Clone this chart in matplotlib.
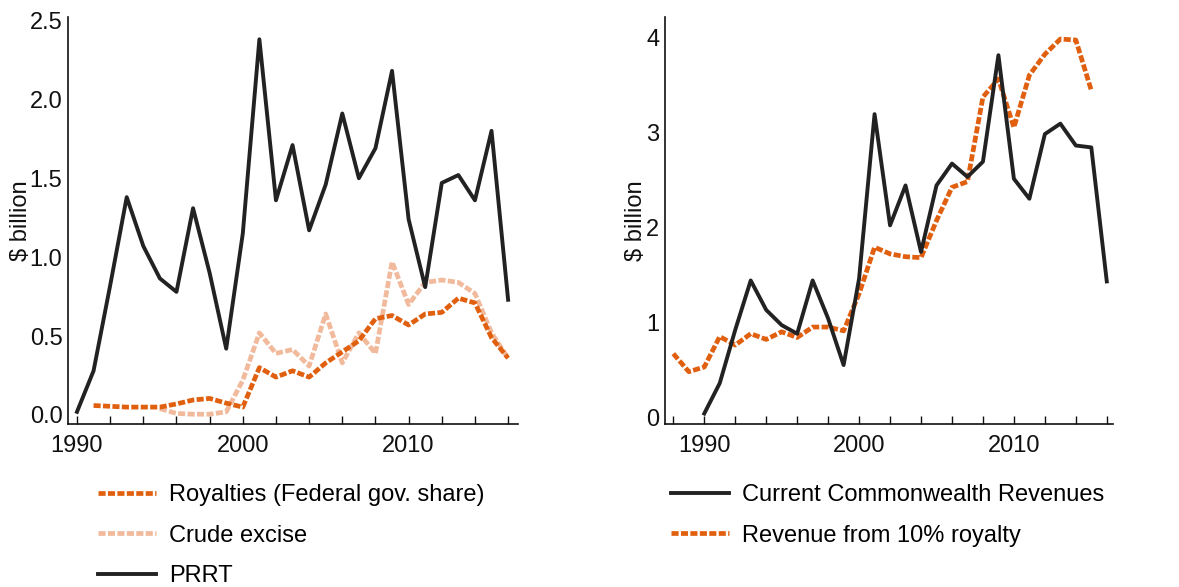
import matplotlib
matplotlib.use("Agg")
import matplotlib.pyplot as plt
from matplotlib.ticker import MultipleLocator, FixedLocator

plt.rcParams['font.family'] = ['Liberation Sans', 'DejaVu Sans']

# Left panel: federal revenues by instrument ($ billion)
prrt_years = list(range(1990, 2017))
prrt = [0.02, 0.28, 0.82, 1.38, 1.07, 0.865, 0.78, 1.31, 0.90, 0.42,
        1.15, 2.38, 1.36, 1.71, 1.17, 1.46, 1.91, 1.50, 1.69, 2.18,
        1.24, 0.81, 1.47, 1.52, 1.36, 1.80, 0.73]

royalty_years = list(range(1991, 2017))
royalties = [0.06, 0.055, 0.05, 0.05, 0.05, 0.07, 0.095, 0.105, 0.075, 0.05,
             0.30, 0.24, 0.28, 0.24, 0.33, 0.40, 0.47, 0.61, 0.63, 0.57,
             0.64, 0.65, 0.74, 0.71, 0.49, 0.36]

excise_years = list(range(1995, 2017))
crude_excise = [0.04, 0.01, 0.005, 0.005, 0.02, 0.22, 0.52, 0.39, 0.415, 0.31,
                0.64, 0.33, 0.52, 0.39, 0.97, 0.70, 0.84, 0.855, 0.84, 0.77,
                0.52, 0.36]

# Right panel: current Commonwealth revenues vs 10% royalty ($ billion)
cw_years = list(range(1990, 2017))
commonwealth = [0.04, 0.36, 0.92, 1.44, 1.13, 0.97, 0.88, 1.44, 1.04, 0.55,
                1.46, 3.19, 2.02, 2.44, 1.74, 2.44, 2.67, 2.53, 2.69, 3.81,
                2.51, 2.30, 2.98, 3.09, 2.86, 2.84, 1.43]

roy10_years = list(range(1988, 2016))
royalty_10 = [0.67, 0.48, 0.53, 0.85, 0.76, 0.88, 0.82, 0.90, 0.84, 0.95,
              0.95, 0.91, 1.30, 1.79, 1.72, 1.69, 1.68, 2.07, 2.42, 2.48,
              3.37, 3.56, 3.05, 3.60, 3.82, 3.98, 3.97, 3.44]

BLACK = '#222222'
DARK_ORANGE = '#E0600F'
LIGHT_ORANGE = '#F2BA9C'
FS = 17

fig = plt.figure(figsize=(11.79, 5.87), dpi=100)
ax1 = fig.add_axes([0.0577, 0.2777, 0.3817, 0.693])
ax2 = fig.add_axes([0.564, 0.2777, 0.380, 0.693])

dash = (1.5, 0.5)

ax1.plot(prrt_years, prrt, color=BLACK, lw=2.8, label='PRRT', zorder=3)
ax1.plot(excise_years, crude_excise, color=LIGHT_ORANGE, lw=3.4,
         dashes=dash, label='Crude excise', zorder=2)
ax1.plot(royalty_years, royalties, color=DARK_ORANGE, lw=3.4,
         dashes=dash, label='Royalties (Federal gov. share)', zorder=2.5)

ax2.plot(cw_years, commonwealth, color=BLACK, lw=2.8,
         label='Current Commonwealth Revenues', zorder=3)
ax2.plot(roy10_years, royalty_10, color=DARK_ORANGE, lw=3.4,
         dashes=dash, label='Revenue from 10% royalty', zorder=2)

ax1.set_xlim(1989.46, 2016.6)
ax1.set_ylim(-0.057, 2.52)
ax1.set_yticks([0.0, 0.5, 1.0, 1.5, 2.0, 2.5])
ax1.set_yticklabels(['0.0', '0.5', '1.0', '1.5', '2.0', '2.5'])
ax1.xaxis.set_major_locator(FixedLocator([1990, 2000, 2010]))
ax1.xaxis.set_minor_locator(MultipleLocator(2))

ax2.set_xlim(1987.46, 2016.4)
ax2.set_ylim(-0.07, 4.21)
ax2.set_yticks([0, 1, 2, 3, 4])
ax2.xaxis.set_major_locator(FixedLocator([1990, 2000, 2010]))
ax2.xaxis.set_minor_locator(FixedLocator(list(range(1988, 2017, 2))))

for ax in (ax1, ax2):
    for side in ('top', 'right'):
        ax.spines[side].set_visible(False)
    for side in ('left', 'bottom'):
        ax.spines[side].set_linewidth(1.2)
        ax.spines[side].set_color('#111111')
    ax.tick_params(axis='y', length=0, pad=4, labelsize=FS, colors='#111111')
    ax.tick_params(axis='x', which='both', direction='in', length=6, width=1,
                   pad=8, labelsize=FS, colors='#111111')
    ax.set_ylabel('$ billion', fontsize=FS, color='#111111')

ax1.yaxis.set_label_coords(-0.079, 0.5)
ax2.yaxis.set_label_coords(-0.041, 0.5)

h1, l1 = ax1.get_legend_handles_labels()
order1 = [2, 1, 0]
fig.legend([h1[i] for i in order1], [l1[i] for i in order1],
           loc='upper left', bbox_to_anchor=(0.083, 0.175), frameon=False,
           fontsize=FS, handlelength=2.45, handletextpad=0.55,
           labelspacing=0.78, borderpad=0, borderaxespad=0)

h2, l2 = ax2.get_legend_handles_labels()
fig.legend(h2, l2, loc='upper left', bbox_to_anchor=(0.569, 0.175),
           frameon=False, fontsize=FS, handlelength=2.45, handletextpad=0.55,
           labelspacing=0.78, borderpad=0, borderaxespad=0)

fig.savefig('out.png', dpi=100)
